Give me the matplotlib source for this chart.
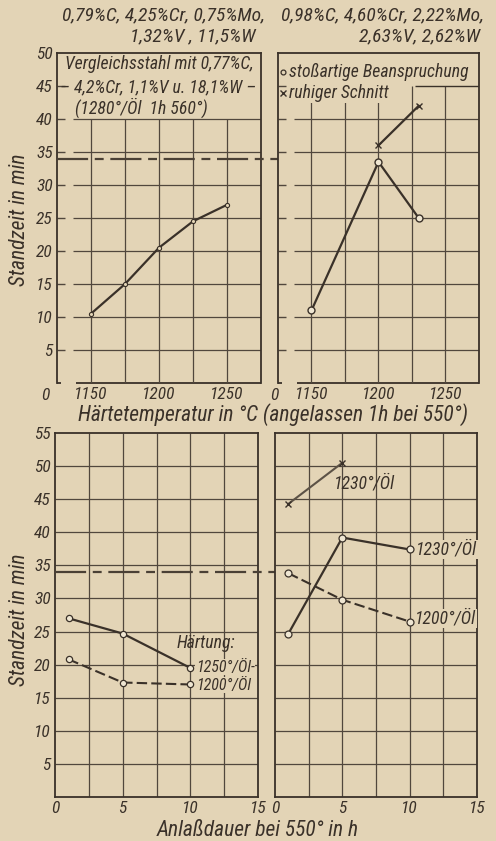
import matplotlib
matplotlib.use('Agg')
import matplotlib.pyplot as plt
from matplotlib import font_manager

# Schriftart: möglichst schmal und kursiv wie im Original
names = set(f.name for f in font_manager.fontManager.ttflist)
fam = 'DejaVu Sans'
for cand in ['Liberation Sans Narrow', 'Roboto Condensed', 'Open Sans Condensed', 'Roboto']:
    if cand in names:
        fam = cand
        break
plt.rcParams['font.family'] = [fam, 'DejaVu Sans']
plt.rcParams['font.style'] = 'italic'

bg = '#e3d4b6'
ink = '#3a3129'
grid_c = '#51473d'
fill = '#efe6d2'

# obere Bilder: Standzeit über Härtetemperatur
temp_ticks = [1150, 1200, 1250]
temp_a = [1150, 1175, 1200, 1225, 1250]
stand_a = [10.5, 15, 20.5, 24.5, 27]
temp_b_stoss = [1150, 1200, 1230]
stand_b_stoss = [11, 33.5, 25]
temp_b_ruhig = [1200, 1230]
stand_b_ruhig = [36, 42]
vergleich = 34

# untere Bilder: Standzeit über Anlaßdauer
dauer_ticks = [0, 5, 10, 15]
dauer = [1, 5, 10]
stand_a_1250 = [27, 24.7, 19.5]
stand_a_1200 = [20.8, 17.3, 17]
dauer_b_ruhig = [1, 5]
stand_b_ruhig_1230 = [44.3, 50.5]
stand_b_1230 = [24.7, 39.2, 37.4]
stand_b_1200 = [33.8, 29.8, 26.5]

W, H = 496, 841
fs_tick = 12.5
fs_txt = 12.8
fs_lab = 15.5
fig = plt.figure(figsize=(W / 100, H / 100), dpi=100, facecolor=bg)


def ax_px(l, r, t, b):
    return fig.add_axes([l / W, (H - b) / H, (r - l) / W, (b - t) / H], facecolor=bg)


def style(ax):
    for s in ax.spines.values():
        s.set_color(ink)
        s.set_linewidth(1.3)
    ax.tick_params(colors=ink, labelcolor=ink, labelsize=fs_tick, length=0, pad=3)


ax1 = ax_px(57, 261, 53, 383)
ax2 = ax_px(278, 479, 53, 383)
ax3 = ax_px(55, 258, 433, 797)
ax4 = ax_px(275, 477, 433, 797)

# --- obere Bilder ---
for ax, vtop in ((ax1, 40), (ax2, 45)):
    style(ax)
    ax.set_xlim(1125, 1275)
    ax.set_ylim(0, 50)
    ax.spines['bottom'].set_visible(False)
    ax.hlines(0, 1139, 1275, color=ink, lw=1.3, clip_on=False)
    ax.hlines(0, 1125, 1128, color=ink, lw=1.3, clip_on=False)
    ax.vlines([1150, 1175, 1200, 1225, 1250], 0, vtop, color=grid_c, lw=0.9)
    ax.hlines(list(range(5, 45, 5)), 1137, 1275, color=grid_c, lw=0.9)
    ax.hlines(list(range(5, 50, 5)), 1125, 1131, color=grid_c, lw=1.0)
    ax.set_xticks(temp_ticks)
    ax.set_xticklabels([str(t) for t in temp_ticks])
    ax.set_yticks(list(range(5, 55, 5)))
    ax.tick_params(axis='x', pad=3)

ax1.set_yticklabels([str(v) for v in range(5, 55, 5)])
ax2.set_yticklabels([])
ax2.hlines(45, 1227, 1275, color=ink, lw=1.0)

ax1.plot(temp_a, stand_a, '-', color=ink, lw=1.6, marker='o', ms=3,
         mfc=bg, mec=ink, mew=0.8)
ax2.plot(temp_b_stoss, stand_b_stoss, '-', color=ink, lw=1.6, marker='o', ms=5,
         mfc=fill, mec=ink, mew=1.0)
ax2.plot(temp_b_ruhig, stand_b_ruhig, '-', color=ink, lw=1.6, marker='x', ms=5,
         mec=ink, mew=1.0)

ax1.text(1200, 48.4, 'Vergleichsstahl mit 0,77%C,', ha='center', va='center',
         fontsize=fs_txt, color=ink)
ax1.text(1199, 44.8, '– 4,2%Cr, 1,1%V u. 18,1%W –', ha='center', va='center',
         fontsize=fs_txt, color=ink)
ax1.text(1187, 41.7, '(1280°/Öl  1h 560°)', ha='center', va='center',
         fontsize=fs_txt, color=ink)

ax2.plot([1129], [47.1], 'o', ms=3.5, mfc=bg, mec=ink, mew=0.9)
ax2.text(1133, 47.1, 'stoßartige Beanspruchung', ha='left', va='center',
         fontsize=fs_txt, color=ink)
ax2.plot([1129], [44], 'x', ms=4, mec=ink, mew=1.0)
ax2.text(1133, 43.9, 'ruhiger Schnitt', ha='left', va='center',
         fontsize=fs_txt, color=ink,
         bbox=dict(facecolor=bg, edgecolor='none', pad=0.5))

# Vergleichslinie über beide oberen Bilder
ax1.plot([1125, 1435], [vergleich, vergleich], color='#4a4035', lw=1.6,
         dashes=(14, 3, 4, 3), clip_on=False, zorder=3)

fig.text(45 / W, 1 - 396 / H, '0', ha='center', va='center', fontsize=fs_tick, color=ink)
fig.text(274 / W, 1 - 396 / H, '0', ha='center', va='center', fontsize=fs_tick, color=ink)

# --- untere Bilder ---
for ax in (ax3, ax4):
    style(ax)
    ax.set_xlim(0, 15)
    ax.set_ylim(0, 55)
    ax.vlines([2.5, 5, 7.5, 10, 12.5], 0, 55, color=grid_c, lw=0.9)
    ax.hlines(list(range(5, 55, 5)), 0, 15, color=grid_c, lw=0.9)
    ax.set_xticks(dauer_ticks)
    ax.set_xticklabels([str(t) for t in dauer_ticks])
    ax.tick_params(axis='x', pad=3)

ax3.set_yticks(list(range(5, 60, 5)))
ax3.set_yticklabels([str(v) for v in range(5, 60, 5)])
ax4.set_yticks([])

ax3.plot(dauer, stand_a_1250, '-', color=ink, lw=1.6, marker='o', ms=4.5,
         mfc=fill, mec=ink, mew=0.9, zorder=4)
ax3.plot(dauer, stand_a_1200, '--', color=ink, lw=1.5, dashes=(5, 2), marker='o',
         ms=4.5, mfc=fill, mec=ink, mew=0.9, zorder=4)
ax3.text(9.0, 23.2, 'Härtung:', ha='left', va='center', fontsize=fs_txt, color=ink,
         zorder=3)
ax3.text(10.4, 19.6, '1250°/Öl-', ha='left', va='center', fontsize=11.5, color=ink,
         bbox=dict(facecolor=bg, edgecolor='none', pad=0.2), zorder=3)
ax3.text(10.4, 16.9, '1200°/Öl', ha='left', va='center', fontsize=11.5, color=ink,
         bbox=dict(facecolor=bg, edgecolor='none', pad=0.2), zorder=3)

ax4.plot(dauer_b_ruhig, stand_b_ruhig_1230, '-', color='#5c5246', lw=1.5,
         marker='x', ms=5, mec=ink, mew=1.0)
ax4.plot(dauer, stand_b_1230, '-', color=ink, lw=1.6, marker='o', ms=5,
         mfc=fill, mec=ink, mew=0.9, zorder=4)
ax4.plot(dauer, stand_b_1200, '--', color=ink, lw=1.5, dashes=(5, 2), marker='o',
         ms=5, mfc=fill, mec=ink, mew=0.9, zorder=4)
ax4.text(4.4, 47.4, '1230°/Öl', ha='left', va='center', fontsize=fs_txt, color=ink)
ax4.text(10.5, 37.4, '1230°/Öl', ha='left', va='center', fontsize=fs_txt, color=ink,
         bbox=dict(facecolor=bg, edgecolor='none', pad=0.3))
ax4.text(10.4, 27.0, '1200°/Öl', ha='left', va='center', fontsize=fs_txt, color=ink,
         bbox=dict(facecolor=bg, edgecolor='none', pad=0.3))

ax3.plot([0, 31.2], [vergleich, vergleich], color='#4a4035', lw=1.6,
         dashes=(14, 3, 4, 3), clip_on=False, zorder=3)

# --- Beschriftungen ---
fig.text(163 / W, 1 - 15 / H, '0,79%C, 4,25%Cr, 0,75%Mo,', ha='center', va='center',
         fontsize=14, color=ink)
fig.text(255 / W, 1 - 36 / H, '1,32%V , 11,5%W', ha='right', va='center',
         fontsize=14, color=ink)
fig.text(382 / W, 1 - 15 / H, '0,98%C, 4,60%Cr, 2,22%Mo,', ha='center', va='center',
         fontsize=14, color=ink)
fig.text(480 / W, 1 - 36 / H, '2,63%V, 2,62%W', ha='right', va='center',
         fontsize=14, color=ink)

fig.text(273 / W, 1 - 415 / H, 'Härtetemperatur in °C (angelassen 1h bei 550°)',
         ha='center', va='center', fontsize=fs_lab, color=ink)
fig.text(258 / W, 1 - 831 / H, 'Anlaßdauer bei 550° in h',
         ha='center', va='center', fontsize=fs_lab, color=ink)
fig.text(20 / W, 1 - 220 / H, 'Standzeit in min', rotation=90,
         ha='center', va='center', fontsize=fs_lab, color=ink)
fig.text(20 / W, 1 - 620 / H, 'Standzeit in min', rotation=90,
         ha='center', va='center', fontsize=fs_lab, color=ink)

fig.savefig('out.png', dpi=100, facecolor=bg)
